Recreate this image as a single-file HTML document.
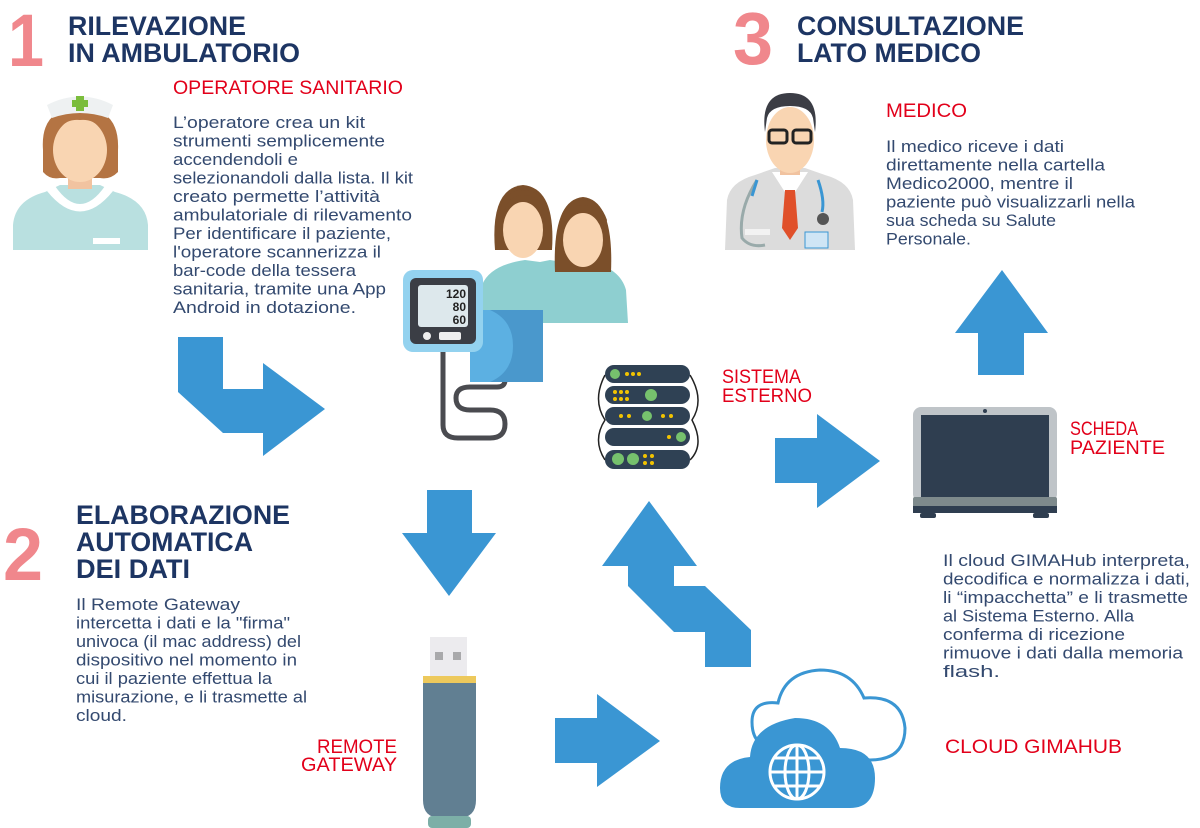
<!DOCTYPE html>
<html><head><meta charset="utf-8"><style>
html,body{margin:0;padding:0;background:#fff;width:1200px;height:828px;overflow:hidden}
svg{display:block}
.t{font-family:"Liberation Sans",sans-serif;font-weight:bold;fill:#1d3563;font-size:27px}
.n{font-family:"Liberation Sans",sans-serif;font-weight:bold;fill:#f0878c;font-size:74px}
.r{font-family:"Liberation Sans",sans-serif;fill:#e2001a;font-size:19px}
.p{font-family:"Liberation Sans",sans-serif;fill:#33496f;font-size:17px}
</style></head><body>
<svg width="1200" height="828" viewBox="0 0 1200 828" xmlns="http://www.w3.org/2000/svg">
<text class="n" x="8" y="66" textLength="36" lengthAdjust="spacingAndGlyphs">1</text>
<text class="t" x="68" y="35" textLength="178" lengthAdjust="spacingAndGlyphs">RILEVAZIONE</text>
<text class="t" x="68" y="62" textLength="232" lengthAdjust="spacingAndGlyphs">IN AMBULATORIO</text>
<text class="n" x="733" y="64" textLength="40" lengthAdjust="spacingAndGlyphs">3</text>
<text class="t" x="797" y="35" textLength="227" lengthAdjust="spacingAndGlyphs">CONSULTAZIONE</text>
<text class="t" x="797" y="62" textLength="184" lengthAdjust="spacingAndGlyphs">LATO MEDICO</text>
<text class="n" x="3" y="580" textLength="40" lengthAdjust="spacingAndGlyphs">2</text>
<text class="t" x="76" y="524" textLength="214" lengthAdjust="spacingAndGlyphs">ELABORAZIONE</text>
<text class="t" x="76" y="551" textLength="177" lengthAdjust="spacingAndGlyphs">AUTOMATICA</text>
<text class="t" x="76" y="578" textLength="114" lengthAdjust="spacingAndGlyphs">DEI DATI</text>

<text class="r" x="173" y="94" textLength="230" lengthAdjust="spacingAndGlyphs">OPERATORE SANITARIO</text>
<text class="r" x="886" y="117" textLength="81" lengthAdjust="spacingAndGlyphs">MEDICO</text>
<text class="r" x="722" y="383" textLength="79" lengthAdjust="spacingAndGlyphs">SISTEMA</text>
<text class="r" x="722" y="402" textLength="90" lengthAdjust="spacingAndGlyphs">ESTERNO</text>
<text class="r" x="1070" y="435" textLength="68" lengthAdjust="spacingAndGlyphs">SCHEDA</text>
<text class="r" x="1070" y="454" textLength="95" lengthAdjust="spacingAndGlyphs">PAZIENTE</text>
<text class="r" x="397" y="753" text-anchor="end" textLength="80" lengthAdjust="spacingAndGlyphs">REMOTE</text>
<text class="r" x="397" y="771" text-anchor="end" textLength="96" lengthAdjust="spacingAndGlyphs">GATEWAY</text>
<text class="r" x="945" y="753" textLength="177" lengthAdjust="spacingAndGlyphs">CLOUD GIMAHUB</text>

<g class="p">
<text x="173" y="128" textLength="192" lengthAdjust="spacingAndGlyphs">L’operatore crea un kit</text>
<text x="173" y="146.5" textLength="212" lengthAdjust="spacingAndGlyphs">strumenti semplicemente</text>
<text x="173" y="165" textLength="125" lengthAdjust="spacingAndGlyphs">accendendoli e</text>
<text x="173" y="183.5" textLength="240" lengthAdjust="spacingAndGlyphs">selezionandoli dalla lista. Il kit</text>
<text x="173" y="202" textLength="207" lengthAdjust="spacingAndGlyphs">creato permette l’attività</text>
<text x="173" y="220.5" textLength="239" lengthAdjust="spacingAndGlyphs">ambulatoriale di rilevamento</text>
<text x="173" y="239" textLength="218" lengthAdjust="spacingAndGlyphs">Per identificare il paziente,</text>
<text x="173" y="257.5" textLength="208" lengthAdjust="spacingAndGlyphs">l'operatore scannerizza il</text>
<text x="173" y="276" textLength="183" lengthAdjust="spacingAndGlyphs">bar-code della tessera</text>
<text x="173" y="294.5" textLength="213" lengthAdjust="spacingAndGlyphs">sanitaria, tramite una App</text>
<text x="173" y="313" textLength="183" lengthAdjust="spacingAndGlyphs">Android in dotazione.</text>
</g>
<g class="p">
<text x="886" y="152" textLength="178" lengthAdjust="spacingAndGlyphs">Il medico riceve i dati</text>
<text x="886" y="170.5" textLength="219" lengthAdjust="spacingAndGlyphs">direttamente nella cartella</text>
<text x="886" y="189" textLength="187" lengthAdjust="spacingAndGlyphs">Medico2000, mentre il</text>
<text x="886" y="207.5" textLength="249" lengthAdjust="spacingAndGlyphs">paziente può visualizzarli nella</text>
<text x="886" y="226" textLength="170" lengthAdjust="spacingAndGlyphs">sua scheda su Salute</text>
<text x="886" y="244.5" textLength="85" lengthAdjust="spacingAndGlyphs">Personale.</text>
</g>
<g class="p">
<text x="76" y="610" textLength="164" lengthAdjust="spacingAndGlyphs">Il Remote Gateway</text>
<text x="76" y="628.5" textLength="214" lengthAdjust="spacingAndGlyphs">intercetta i dati e la "firma"</text>
<text x="76" y="647" textLength="225" lengthAdjust="spacingAndGlyphs">univoca (il mac address) del</text>
<text x="76" y="665.5" textLength="221" lengthAdjust="spacingAndGlyphs">dispositivo nel momento in</text>
<text x="76" y="684" textLength="196" lengthAdjust="spacingAndGlyphs">cui il paziente effettua la</text>
<text x="76" y="702.5" textLength="231" lengthAdjust="spacingAndGlyphs">misurazione, e li trasmette al</text>
<text x="76" y="721" textLength="51" lengthAdjust="spacingAndGlyphs">cloud.</text>
</g>
<g class="p">
<text x="943" y="566" textLength="247" lengthAdjust="spacingAndGlyphs">Il cloud GIMAHub interpreta,</text>
<text x="943" y="584.5" textLength="247" lengthAdjust="spacingAndGlyphs">decodifica e normalizza i dati,</text>
<text x="943" y="603" textLength="245" lengthAdjust="spacingAndGlyphs">li “impacchetta” e li trasmette</text>
<text x="943" y="621.5" textLength="191" lengthAdjust="spacingAndGlyphs">al Sistema Esterno. Alla</text>
<text x="943" y="640" textLength="182" lengthAdjust="spacingAndGlyphs">conferma di ricezione</text>
<text x="943" y="658.5" textLength="240" lengthAdjust="spacingAndGlyphs">rimuove i dati dalla memoria</text>
<text x="943" y="677" textLength="57" lengthAdjust="spacingAndGlyphs">flash.</text>
</g>

<g fill="#3a96d3">
<polygon points="178,337 223,337 223,389 263,389 263,363 325,409 263,456 263,433 223,433 178,392"/>
<polygon points="427,490 472,490 472,533 496,533 449,596 402,533 427,533"/>
<polygon points="649,501 697,566 674,566 674,586 705,586 751,630 751,667 705,667 705,632 674,632 628,586 628,566 602,566"/>
<polygon points="555,718 597,718 597,694 660,741 597,787 597,763 555,763"/>
<polygon points="775,438 817,438 817,414 880,461 817,508 817,483 775,483"/>
<polygon points="1002,270 1048,333 1024,333 1024,375 978,375 978,333 955,333"/>
</g>

<!-- nurse -->
<g>
<path d="M13,250 L13,225 Q15,200 45,192 L60,185 L100,185 L115,192 Q146,200 148,225 L148,250 Z" fill="#b9e0e0"/>
<path d="M55,186 Q80,222 105,186 L113,191 Q80,232 47,191 Z" fill="#fff"/>
<rect x="93" y="238" width="27" height="6" fill="#fff"/>
<path d="M43,150 Q40,108 80,108 Q120,108 118,150 L118,172 Q110,180 100,178 L60,178 Q50,180 43,172 Z" fill="#b47443"/>
<rect x="68" y="165" width="24" height="24" fill="#f1c3a0"/>
<ellipse cx="80" cy="150" rx="27" ry="32" fill="#f9d5b2"/>
<path d="M53,142 Q60,118 80,120 Q100,118 107,142 L110,130 Q100,110 80,111 Q60,110 50,130 Z" fill="#b47443"/>
<path d="M47,105 Q80,88 113,105 L108,118 Q80,108 52,118 Z" fill="#eef1f2"/>
<path d="M76,96 h8 v4 h4 v7 h-4 v4 h-8 v-4 h-4 v-7 h4 z" fill="#7bbd3c"/>
</g>

<!-- doctor -->
<g>
<path d="M725,250 L727,200 Q730,182 755,175 L775,168 L805,168 L825,175 Q850,182 853,200 L855,250 Z" fill="#dcdcdc"/>
<path d="M772,172 L790,200 L808,172 Z" fill="#fff"/>
<polygon points="785,190 795,190 798,228 790,240 782,228" fill="#e0502a"/>
<rect x="780" y="155" width="20" height="20" fill="#f1c3a0"/>
<ellipse cx="790" cy="140" rx="24" ry="33" fill="#f9d5b2"/>
<path d="M765,132 Q760,93 790,93 Q820,93 815,132 L813,118 Q810,106 790,106 Q770,106 767,118 Z" fill="#3b3d45"/>
<rect x="769" y="130" width="18" height="13" rx="3" fill="none" stroke="#222" stroke-width="3"/>
<rect x="793" y="130" width="18" height="13" rx="3" fill="none" stroke="#222" stroke-width="3"/>
<path d="M757,180 Q738,210 742,238 Q750,248 765,245" fill="none" stroke="#9aa" stroke-width="3"/>
<path d="M757,180 L752,196" stroke="#3a96d3" stroke-width="3"/>
<path d="M818,180 Q825,200 822,212" fill="none" stroke="#3a96d3" stroke-width="3"/>
<circle cx="823" cy="219" r="6" fill="#555"/>
<rect x="805" y="232" width="23" height="16" fill="#cfe5f5" stroke="#3a96d3"/>
<rect x="745" y="229" width="25" height="6" fill="#f2f2f2"/>
</g>

<!-- women -->
<g>
<path d="M480,323 L482,285 Q490,265 525,260 L540,262 L550,260 Q580,265 590,262 Q620,268 626,290 L628,323 Z" fill="#8ecfd0"/>
<path d="M495,250 Q490,188 523,185 Q556,188 552,250 Z" fill="#7b4f2a"/>
<ellipse cx="523" cy="230" rx="20" ry="28" fill="#f9d5b2"/>
<path d="M502,222 Q505,195 523,195 Q545,195 545,222 L548,210 Q540,190 523,190 Q505,190 500,210 Z" fill="#7b4f2a"/>
<path d="M555,272 Q552,200 583,197 Q614,200 611,272 Z" fill="#7b4f2a"/>
<ellipse cx="583" cy="240" rx="20" ry="27" fill="#f9d5b2"/>
<path d="M563,232 Q565,205 583,205 Q603,205 604,232 L607,220 Q600,200 583,200 Q565,200 560,220 Z" fill="#7b4f2a"/>
</g>

<!-- BP monitor -->
<g>
<path d="M443,352 L443,425 Q443,438 458,438 L490,438 Q505,438 505,424 Q505,410 490,410 L470,410 Q456,410 456,398 Q456,387 470,387 L497,387 Q505,387 505,380" fill="none" stroke="#4a4b50" stroke-width="5"/>
<rect x="470" y="310" width="73" height="72" fill="#4a98cc"/>
<path d="M470,310 L490,310 Q513,320 513,346 Q513,372 490,382 L470,382 Z" fill="#5cb0e2"/>
<rect x="403" y="270" width="80" height="82" rx="10" fill="#93d2ef"/>
<rect x="410" y="278" width="66" height="66" rx="6" fill="#3b3e45"/>
<rect x="418" y="285" width="50" height="42" rx="3" fill="#dde8ec"/>
<text x="466" y="298" text-anchor="end" font-family="Liberation Sans" font-weight="bold" font-size="12" fill="#222">120</text>
<text x="466" y="311" text-anchor="end" font-family="Liberation Sans" font-weight="bold" font-size="12" fill="#222">80</text>
<text x="466" y="324" text-anchor="end" font-family="Liberation Sans" font-weight="bold" font-size="12" fill="#222">60</text>
<circle cx="427" cy="336" r="4" fill="#eee"/>
<rect x="439" y="332" width="22" height="8" rx="2" fill="#eee"/>
</g>

<!-- server -->
<g>
<path d="M605,375 Q592,400 605,420 Q592,440 605,460" fill="none" stroke="#222" stroke-width="1.5"/>
<path d="M690,375 Q705,400 692,420 Q705,445 690,460" fill="none" stroke="#222" stroke-width="1.5"/>
<g fill="#2f4154">
<rect x="605" y="365" width="85" height="18" rx="9"/>
<rect x="605" y="386" width="85" height="18" rx="9"/>
<rect x="605" y="407" width="85" height="18" rx="9"/>
<rect x="605" y="428" width="85" height="18" rx="9"/>
<rect x="605" y="450" width="85" height="19" rx="9"/>
</g>
<g fill="#76c16d"><circle cx="615" cy="374" r="5"/><circle cx="651" cy="395" r="6"/><circle cx="647" cy="416" r="5"/><circle cx="681" cy="437" r="5"/><circle cx="618" cy="459" r="6"/><circle cx="633" cy="459" r="6"/></g>
<g fill="#f2c300"><circle cx="627" cy="374" r="2"/><circle cx="633" cy="374" r="2"/><circle cx="639" cy="374" r="2"/><circle cx="615" cy="392" r="2"/><circle cx="621" cy="392" r="2"/><circle cx="627" cy="392" r="2"/><circle cx="615" cy="399" r="2"/><circle cx="621" cy="399" r="2"/><circle cx="627" cy="399" r="2"/><circle cx="621" cy="416" r="2"/><circle cx="629" cy="416" r="2"/><circle cx="663" cy="416" r="2"/><circle cx="671" cy="416" r="2"/><circle cx="669" cy="437" r="2"/><circle cx="645" cy="456" r="2"/><circle cx="652" cy="456" r="2"/><circle cx="645" cy="463" r="2"/><circle cx="652" cy="463" r="2"/></g>
</g>

<!-- laptop -->
<g>
<rect x="913" y="407" width="144" height="95" rx="8" fill="#bfc4c8"/>
<rect x="921" y="415" width="128" height="84" fill="#2f3e50"/>
<circle cx="985" cy="411" r="2" fill="#2f3e50"/>
<rect x="913" y="497" width="144" height="16" rx="2" fill="#7e8a8c"/>
<rect x="913" y="506" width="144" height="7" fill="#2f3e50"/>
<rect x="920" y="513" width="16" height="5" rx="2" fill="#2f3e50"/>
<rect x="1033" y="513" width="16" height="5" rx="2" fill="#2f3e50"/>
</g>

<!-- USB -->
<g>
<rect x="430" y="637" width="37" height="40" fill="#ecebee"/>
<rect x="435" y="652" width="8" height="8" fill="#a9a9ab"/>
<rect x="453" y="652" width="8" height="8" fill="#a9a9ab"/>
<rect x="423" y="676" width="53" height="7" fill="#edc95c"/>
<path d="M423,683 L476,683 L476,800 Q476,818 458,818 L441,818 Q423,818 423,800 Z" fill="#617f92"/>
<rect x="428" y="816" width="43" height="12" rx="4" fill="#7cafa7"/>
</g>

<!-- cloud -->
<g>
<path d="M772,748 Q752,745 752,722 Q752,700 778,703 Q785,672 820,670 Q852,670 864,698 Q902,695 905,728 Q905,760 870,760 Z" fill="#fff" stroke="#3a96d3" stroke-width="3"/>
<path d="M740,808 Q720,808 720,788 Q720,760 750,757 Q752,725 795,718 Q830,718 840,748 Q875,748 875,778 Q875,808 850,808 Z" fill="#3a96d3"/>
<g fill="none" stroke="#fff" stroke-width="3">
<circle cx="797" cy="772" r="27"/>
<ellipse cx="797" cy="772" rx="12" ry="27"/>
<line x1="797" y1="745" x2="797" y2="799"/>
<line x1="770" y1="772" x2="824" y2="772"/>
<line x1="775" y1="758" x2="819" y2="758"/>
<line x1="775" y1="786" x2="819" y2="786"/>
</g>
</g>
</svg>
</body></html>
